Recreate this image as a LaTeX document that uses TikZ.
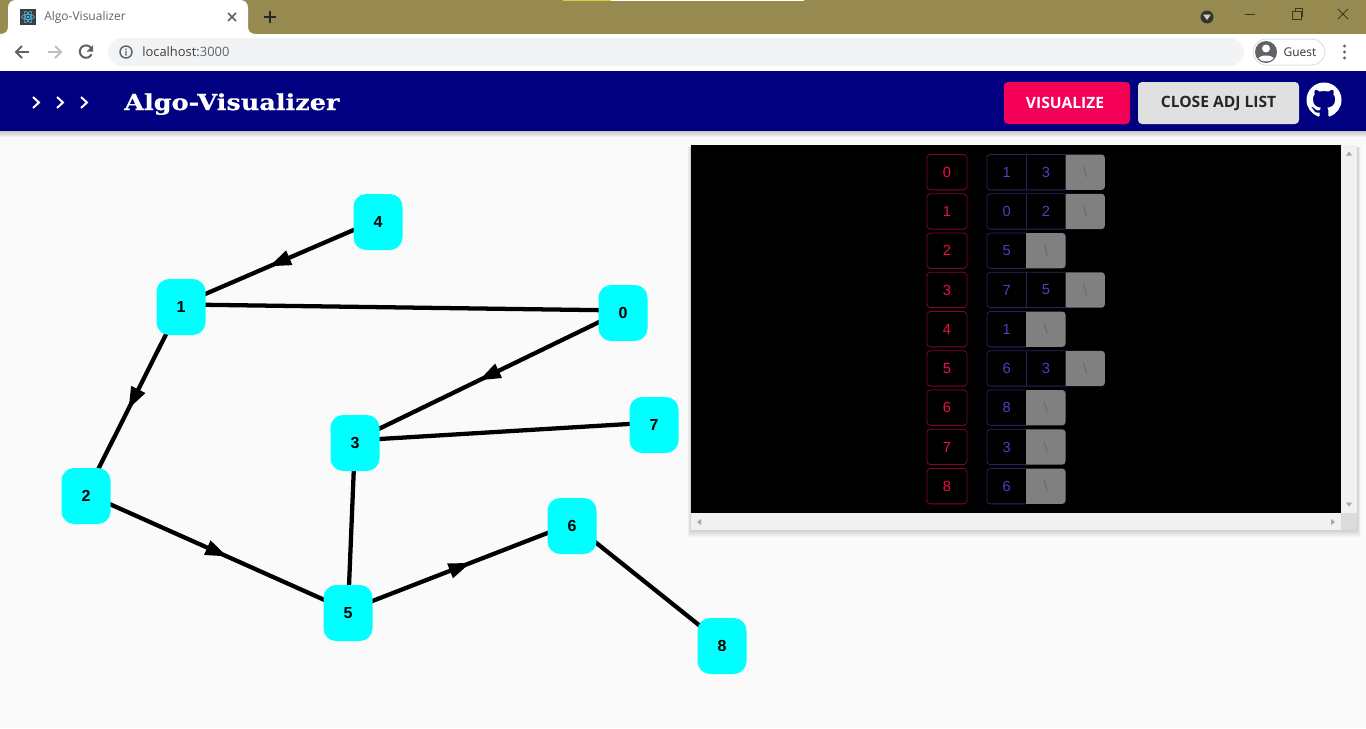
\documentclass[tikz,border=0pt]{standalone}
\usepackage{fontspec}
\setmainfont{Liberation Sans}
\newfontfamily\uifont{Open Sans}
\newfontfamily\logofont[FakeStretch=1.16, FakeBold=.6]{DejaVu Serif}
\usepackage{tikz}
\usetikzlibrary{arrows.meta, backgrounds, decorations.markings, svg.path}
\definecolor{chromebar}{HTML}{968A50}
\definecolor{addrbar}{HTML}{F1F3F4}
\definecolor{iconink}{HTML}{5F6368}
\definecolor{navbar}{HTML}{000080}
\definecolor{pagebg}{HTML}{FAFAFA}
\definecolor{vertexfill}{HTML}{00FFFF}
\definecolor{vispink}{HTML}{F50057}
\definecolor{closegrey}{HTML}{E0E0E0}
\definecolor{headred}{HTML}{F01045}
\definecolor{headline}{HTML}{7A0A25}
\definecolor{listblue}{HTML}{4545C0}
\definecolor{listline}{HTML}{25255E}
\definecolor{nullink}{HTML}{6A6A6A}
\definecolor{scrollbg}{HTML}{F1F1F1}
\tikzset{
	vertex/.style={fill=vertexfill, rounded corners=9.5pt, minimum width=36.75pt, minimum height=42pt, inner sep=0pt, outer sep=0pt, font=\fontsize{12}{14}\selectfont\bfseries},
	edgeline/.style={line width=3.2pt, black},
	midarrow/.style={edgeline, postaction={decorate}, decoration={markings, mark=at position .5 with {\arrow[xshift=8.5pt]{Triangle[length=16.5pt,width=11pt]}}}},
	headcell/.style={draw=headline, line width=.6pt, rounded corners=2.5pt, text=headred, minimum width=30pt, minimum height=26.5pt, inner sep=0pt, font=\fontsize{11}{12}\selectfont},
	listcell/.style={text=listblue, minimum width=29.5pt, minimum height=26.5pt, inner sep=0pt, outer sep=0pt, font=\fontsize{11}{12}\selectfont},
	nullcell/.style={listcell, text=nullink},
	listedge/.style={draw=listline, line width=.6pt},
	navbutton/.style={rounded corners=3pt, minimum height=31.5pt, inner sep=0pt, outer sep=0pt, font=\uifont\fontsize{11.7}{13}\selectfont\bfseries},
	chevron/.style={white, line width=1.5pt},
	toolicon/.style={iconink, line width=1.5pt},
	uitext/.style={inner sep=0pt, font=\uifont\fontsize{9}{11}\selectfont, text=iconink},
}
\begin{document}
\begin{tikzpicture}[x=.75pt, y=-.75pt]
	\begin{scope}[on background layer]
		\fill[pagebg] (0,0) rectangle (1366,728);
	\end{scope}
	\fill[chromebar] (0,0) rectangle (1366,34);
	\fill[yellow!60!chromebar] (563,0) rectangle (611,1);
	\fill[white] (611,0) rectangle (804,1);
	\fill[white] (0,34) rectangle (1366,71);
	\fill[white] (0,34) .. controls (6,34) and (8,31) .. (8,26) -- (8,8) .. controls (8,3) and (11,0) .. (16,0) -- (240,0) .. controls (245,0) and (248,3) .. (248,8) -- (248,26) .. controls (248,31) and (250,34) .. (256,34) -- cycle;
	\fill[black!85!cyan] (20,9) rectangle (36,25);
	\foreach \a in {0,60,120} {
		\draw[cyan!70!white, line width=.4pt, rotate around={\a:(28,17)}] (28,17) ellipse (6.5 and 2.6);
	}
	\fill[cyan!70!white] (28,17) circle (1.3);
	\node[uitext, anchor=west] (tabtitle) at (44,17) {Algo-Visualizer};
	\draw[toolicon, line width=1.1pt] (228,13) -- (236,21) (236,13) -- (228,21);
	\draw[black!85, line width=1.4pt] (264,17) -- (276,17) (270,11) -- (270,23);
	\fill[black!80] (1207,17) circle (6.5);
	\fill[chromebar!40!white] (1203,14.5) -- (1211,14.5) -- (1207,20) -- cycle;
	\draw[black!60!chromebar, line width=.6pt] (1245,14) -- (1255,14);
	\draw[black!60!chromebar, line width=.6pt] (1292,11) rectangle (1301,19) (1295,11) -- (1295,8.5) -- (1302.5,8.5) -- (1302.5,16) -- (1301,16);
	\draw[black!60!chromebar, line width=.6pt] (1338,9) -- (1348,19) (1348,9) -- (1338,19);
	\fill[addrbar, rounded corners=10.5pt] (108,38) rectangle (1244,66);
	\draw[toolicon] (29,52) -- (16,52);
	\draw[toolicon] (22,46) -- (16,52) -- (22,58);
	\draw[toolicon, black!25] (48,52) -- (61,52);
	\draw[toolicon, black!25] (55,46) -- (61,52) -- (55,58);
	\draw[toolicon] (92,50) arc (-15:-335:6.2);
	\fill[iconink] (93,45) -- (93,51.5) -- (86.5,51.5) -- cycle;
	\draw[toolicon, line width=1.1pt] (126,52) circle (6);
	\fill[iconink] (125.3,51) rectangle (126.7,55.5) (125.3,48.5) rectangle (126.7,50);
	\node[uitext, anchor=west, font=\uifont\fontsize{9.7}{12}\selectfont, text=black!75] (addrhost) at (142,52) {localhost:\textcolor{iconink}{3000}};
	\draw[black!12, fill=white, line width=.75pt, rounded corners=10pt] (1253,39) rectangle (1325,65);
	\fill[iconink] (1266,52) circle (11);
	\fill[white] (1266,48.5) circle (4);
	\fill[white] (1258.5,58.5) .. controls (1260,54.5) and (1272,54.5) .. (1273.5,58.5) .. controls (1270,62.5) and (1262,62.5) .. (1258.5,58.5) -- cycle;
	\node[uitext, text=black!80] (guest) at (1300,52) {Guest};
	\foreach \y in {46,52,58} {
		\fill[iconink] (1344.5,\y) circle (1.7);
	}
	\foreach \s in {1,...,6} {
		\fill[black, opacity=.035] (0,131) rectangle (1366,131+\s);
	}
	\fill[navbar] (0,71) rectangle (1366,131);
	\foreach \x in {33,57,81} {
		\draw[chevron] (\x,97) -- (\x+6,102.5) -- (\x,108);
	}
	\node[anchor=base west, inner sep=0pt, text=white, font=\logofont\fontsize{16.5}{18}\selectfont\bfseries] (brand) at (124,110) {Algo-Visualizer};
	\node[navbutton, fill=vispink, text=white, minimum width=94.5pt] (visualize) at (1067,103) {\raisebox{-.7pt}{VISUALIZE}\hspace*{3pt}};
	\node[navbutton, fill=closegrey, text=black!85, minimum width=120.75pt] (closeadj) at (1218.5,103) {\raisebox{-.7pt}{CLOSE ADJ LIST}};
	\fill[white, shift={(1306.5,82.5)}, xscale=1.64, yscale=-1.64] svg {M 8 0 C 3.58 0 0 3.58 0 8 c 0 3.54 2.29 6.53 5.47 7.59 c 0.4 0.07 0.55 -0.17 0.55 -0.38 c 0 -0.19 -0.01 -0.82 -0.01 -1.49 c -2.01 0.37 -2.53 -0.49 -2.69 -0.94 c -0.09 -0.23 -0.48 -0.94 -0.82 -1.13 c -0.28 -0.15 -0.68 -0.52 -0.01 -0.53 c 0.63 -0.01 1.08 0.58 1.23 0.82 c 0.72 1.21 1.87 0.87 2.33 0.66 c 0.07 -0.52 0.28 -0.87 0.51 -1.07 c -1.78 -0.2 -3.64 -0.89 -3.64 -3.95 c 0 -0.87 0.31 -1.59 0.82 -2.15 c -0.08 -0.2 -0.36 -1.02 0.08 -2.12 c 0 0 0.67 -0.21 2.2 0.82 c 0.64 -0.18 1.32 -0.27 2 -0.27 c 0.68 0 1.36 0.09 2 0.27 c 1.53 -1.04 2.2 -0.82 2.2 -0.82 c 0.44 1.1 0.16 1.92 0.08 2.12 c 0.51 0.56 0.82 1.27 0.82 2.15 c 0 3.07 -1.87 3.75 -3.65 3.95 c 0.29 0.25 0.54 0.73 0.54 1.48 c 0 1.07 -0.01 1.93 -0.01 2.2 c 0 0.21 0.15 0.46 0.55 0.38 C 13.71 14.53 16 11.54 16 8 c 0 -4.42 -3.58 -8 -8 -8 z};
	\foreach \s in {1,...,7} {
		\fill[black, opacity=.022] (691-\s/2,147) rectangle (1357+\s/2,530+\s);
	}
	\fill[scrollbg] (1341,145) rectangle (1357,530);
	\fill[scrollbg] (691,513) rectangle (1341,530);
	\fill[black!14] (1341,513) rectangle (1357,530);
	\fill[black] (691,145) rectangle (1341,513);
	\fill[black!35] (1346,155.5) -- (1352,155.5) -- (1349,151.5) -- cycle;
	\fill[black!35] (1346,502.5) -- (1352,502.5) -- (1349,506.5) -- cycle;
	\fill[black!35] (701,519) -- (701,525) -- (697,522) -- cycle;
	\fill[black!35] (1331,519) -- (1331,525) -- (1335,522) -- cycle;
	\foreach[count=\j] \lseti/\lsetmi/\lsetn in {0/{1,3}/2,1/{0,2}/2,2/{5}/1,3/{7,5}/2,4/{1}/1,5/{6,3}/2,6/{8}/1,7/{3}/1,8/{6}/1} {
		\pgfmathsetmacro\rowy{172.2+39.25*(\j-1)}
		\pgfmathsetmacro\nullx{1006.6+39.3*\lsetn}
		\node[headcell] (head-\lseti) at (947,\rowy) {\lseti};
		\node[nullcell] (null-\lseti) at (\nullx,\rowy) {};
		\fill[gray] (null-\lseti.north west) [rounded corners=2.5pt] -- (null-\lseti.north east) -- (null-\lseti.south east) [sharp corners] -- (null-\lseti.south west) -- cycle;
		\node[nullcell] at (null-\lseti) {\textbackslash};
		\foreach[count=\k] \lj in \lsetmi {
			\node[listcell] (cell-\lseti-\k) at ({1006.6+39.3*(\k-1)},\rowy) {\lj};
		}
		\draw[listedge] (null-\lseti.north west) [rounded corners=2.5pt] -- (cell-\lseti-1.north west) -- (cell-\lseti-1.south west) [sharp corners] -- (null-\lseti.south west);
		\ifnum\lsetn=2
			\draw[listedge] (cell-\lseti-2.north west) -- (cell-\lseti-2.south west);
		\fi
	}
	\foreach \i/\vx/\vy in {0/623/313,1/181/307,2/86/496,3/355/443,4/378/222,5/348/613,6/572/526,7/654/425,8/722/646} {
		\node[vertex] (v-\i) at (\vx,\vy) {\i};
	}
	\begin{scope}[on background layer]
		\draw[midarrow] ([yshift=1.9pt]v-4.center) -- ([yshift=1.9pt]v-1.center);
		\draw[midarrow] ([yshift=1.9pt]v-1.center) -- ([yshift=1.9pt]v-2.center);
		\draw[midarrow] ([yshift=1.9pt]v-0.center) -- ([yshift=1.9pt]v-3.center);
		\draw[midarrow] ([yshift=1.9pt]v-2.center) -- ([yshift=1.9pt]v-5.center);
		\draw[midarrow] ([yshift=1.9pt]v-5.center) -- ([yshift=1.9pt]v-6.center);
		\foreach \a/\b in {1/0,3/7,3/5,6/8} {
			\draw[edgeline] ([yshift=1.9pt]v-\a.center) -- ([yshift=1.9pt]v-\b.center);
		}
	\end{scope}
\end{tikzpicture}
\end{document}
